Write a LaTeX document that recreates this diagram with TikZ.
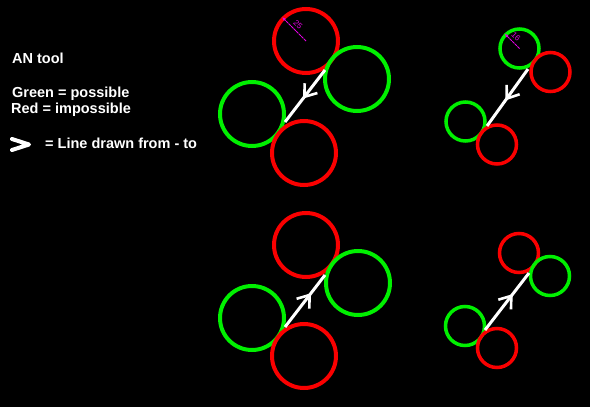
\documentclass[tikz,border=0pt]{standalone}
\usepackage{fontspec}
\setmainfont{Liberation Sans}
\usetikzlibrary{arrows.meta,decorations.markings}
\definecolor{okgreen}{RGB}{0,240,0}
\definecolor{nored}{RGB}{250,0,0}
\definecolor{radmag}{RGB}{230,0,230}

\begin{document}
\begin{tikzpicture}[x=1pt,y=-1pt,
    possible/.style={draw=okgreen, circle, inner sep=0pt},
    impossible/.style={draw=nored, circle, inner sep=0pt},
    big/.style={line width=4pt, minimum size=64pt},
    small/.style={line width=3.5pt, minimum size=39pt},
    txt/.style={anchor=base west, inner sep=0pt, text=white, font=\fontsize{14.5}{16}\selectfont\bfseries},
    rad/.style={draw=radmag, line width=0.8pt, dashed, dash pattern=on 3pt off 0.6pt, -{Latex[length=4pt,width=3pt]}},
    radlbl/.style={text=radmag, font=\fontsize{8}{8}\selectfont, inner sep=0pt},
    drawn/.style={draw=white, line width=3pt, postaction={decorate},
        decoration={markings, mark=at position #1 with {\arrow[white]{Straight Barb[length=11pt, width=16pt, line width=2.6pt]}}}}
]
\fill[black] (0,0) rectangle (590,407);

% legend
\node[txt] (title) at (12,63) {AN tool};
\node[txt] (green) at (12,97) {Green = possible};
\node[txt] (red) at (11,113) {Red = impossible};
\node[txt] (line) at (45,148) {= Line drawn from - to};
\draw[white, line width=4pt, line cap=round, line join=round] (12,139) -- (29,144.5) -- (12,150);

% top left
\node[impossible, big] (r1a) at (306,41) {};
\node[possible, big] (g1a) at (357,79) {};
\node[possible, big] (g1b) at (252,114) {};
\node[impossible, big] (r1b) at (304,153) {};
\coordinate (s1) at (325,70);
\coordinate (e1) at (285,122);
\draw[drawn=0.55] (s1) -- (e1);
\draw[rad] (r1a.center) -- node[radlbl, above=2.5pt, sloped] (l1) {25} (r1a.135);

% top right
\node[possible, small] (g2a) at (519.5,48.5) {};
\node[impossible, small] (r2a) at (550.5,72) {};
\node[possible, small] (g2b) at (465.5,121.5) {};
\node[impossible, small] (r2b) at (497,144.5) {};
\coordinate (s2) at (528,69);
\coordinate (e2) at (487,126);
\draw[drawn=0.55] (s2) -- (e2);
\draw[rad] (g2a.center) -- node[radlbl, above=2.5pt, sloped] (l2) {16} (g2a.135);

% bottom left
\node[impossible, big] (r3a) at (306,245) {};
\node[possible, big] (g3a) at (358,283) {};
\node[possible, big] (g3b) at (252,318) {};
\node[impossible, big] (r3b) at (304,356) {};
\coordinate (s3) at (285,327);
\coordinate (e3) at (325,275);
\draw[drawn=0.65] (s3) -- (e3);

% bottom right
\node[impossible, small] (r4a) at (519,253) {};
\node[possible, small] (g4a) at (550,276) {};
\node[possible, small] (g4b) at (465,326) {};
\node[impossible, small] (r4b) at (497,348) {};
\coordinate (s4) at (485,330);
\coordinate (e4) at (529,273);
\draw[drawn=0.63] (s4) -- (e4);
\end{tikzpicture}
\end{document}
